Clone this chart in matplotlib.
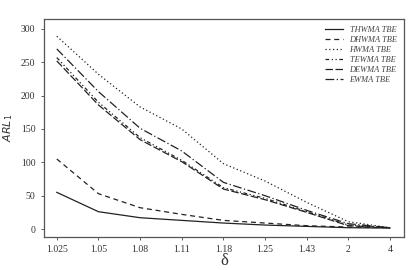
import numpy as np
import matplotlib
matplotlib.use("Agg")
from matplotlib import pyplot as plt

delta = ["1.025", "1.05", "1.08", "1.11", "1.18", "1.25", "1.43", "2", "4"]
thwma = [55, 26, 17, 13, 9, 6, 4, 2, 1.5]
dhwma = [105, 53, 32, 22, 13, 9, 5, 3, 2]
hwma = [289, 232, 183, 150, 98, 72, 40, 11, 2]
tewma = [257, 190, 137, 103, 62, 46, 26, 6, 2]
dewma = [252, 186, 134, 101, 60, 44, 25, 5, 2]
ewma = [270, 206, 151, 117, 70, 50, 28, 8, 2]

plt.rcParams["font.family"] = ["Liberation Serif", "DejaVu Serif"]

fig = plt.figure(figsize=(4.18, 2.70), dpi=100)
ax = fig.add_axes([0.105, 0.122, 0.862, 0.808])
x = np.arange(len(delta))

ax.plot(x, thwma, color="#222222", lw=0.9, ls="-", label="THWMA TBE")
ax.plot(x, dhwma, color="#222222", lw=0.9, ls=(0, (4, 3)), label="DHWMA TBE")
ax.plot(x, hwma, color="#222222", lw=0.9, ls=(0, (1, 2)), label="HWMA TBE")
ax.plot(x, tewma, color="#222222", lw=0.9, ls=(0, (3, 2, 1, 2, 1, 2)), label="TEWMA TBE")
ax.plot(x, dewma, color="#222222", lw=0.9, ls=(0, (6, 2)), label="DEWMA TBE")
ax.plot(x, ewma, color="#222222", lw=0.9, ls=(0, (7, 2, 1, 2)), label="EWMA TBE")

ax.set_xlim(-0.31, 8.34)
ax.set_ylim(-12, 315)
ax.set_xticks(x)
ax.set_xticklabels(delta)
ax.set_yticks([0, 50, 100, 150, 200, 250, 300])
ax.tick_params(labelsize=7, length=2.5, width=0.6, color="#444444", labelcolor="#333333")
for s in ax.spines.values():
    s.set_color("#555555")
    s.set_linewidth(0.9)

ax.set_xlabel("δ", fontsize=12, color="#333333", labelpad=-1)
ax.set_ylabel("$ARL_1$", fontsize=8, color="#333333", labelpad=4)

leg = ax.legend(loc="upper right", frameon=False, prop={"size": 6, "style": "italic"},
                handlelength=2.2, labelspacing=0.25, borderaxespad=0.4)
for t in leg.get_texts():
    t.set_color("#444444")

fig.savefig("out.png", dpi=100)
